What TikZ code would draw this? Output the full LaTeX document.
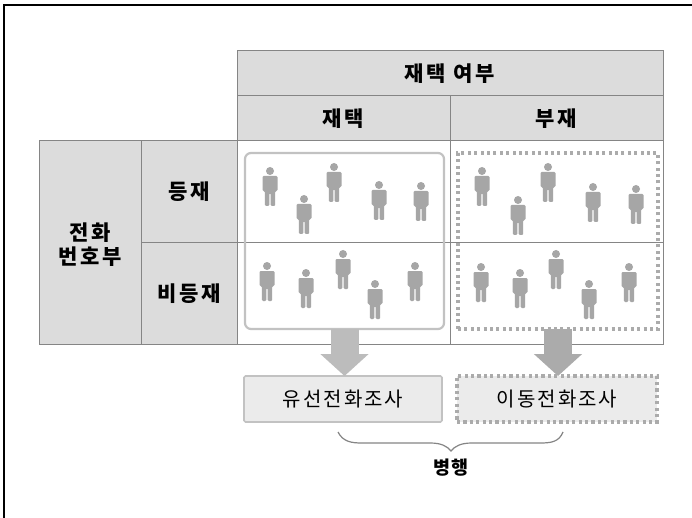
\documentclass[tikz,border=0pt]{standalone}
\usepackage{fontspec}
\setmainfont{Noto Sans CJK KR}
\usetikzlibrary{arrows.meta}
\definecolor{cellgray}{HTML}{DCDCDC}
\definecolor{linegray}{HTML}{858585}
\definecolor{figgray}{HTML}{A6A6A6}
\definecolor{zonegray}{HTML}{C2C2C2}
\definecolor{zonedot}{HTML}{ABABAB}
\definecolor{arrowgray}{HTML}{BCBCBC}
\definecolor{arrowdark}{HTML}{ABABAB}
\definecolor{boxgray}{HTML}{EBEBEB}
\tikzset{
  cellfont/.style={align=center,font=\fontsize{21}{24}\selectfont\bfseries\addfontfeature{LetterSpace=13}},
  cell/.style={draw=linegray,line width=1pt,inner sep=0pt,outer sep=0pt,cellfont},
  head/.style={cell,fill=cellgray},
  plain/.style={cell,fill=white},
  zone/.style={inner sep=0pt,outer sep=0pt,minimum width=199pt,minimum height=176pt},
  survey/.style={inner sep=0pt,outer sep=0pt,minimum width=198pt,minimum height=46pt,fill=boxgray,font=\fontsize{20}{24}\selectfont\addfontfeature{LetterSpace=10}},
  blockarrow/.style={line width=28pt,-{Triangle[length=22pt,width=47pt]}},
  figure/.pic={
    \fill[figgray] (0,0) circle (4pt);
    \fill[figgray,rounded corners=1.2pt] (-7.5,5) -- (7.5,5) -- (7.5,20) -- (5.2,20) -- (5.2,35) -- (0.6,35) -- (0.6,22) -- (-0.6,22) -- (-0.6,35) -- (-5.2,35) -- (-5.2,20) -- (-7.5,20) -- cycle;
  }
}
\begin{document}
\begin{tikzpicture}[x=1pt,y=-1pt]
\useasboundingbox (0,0) rectangle (692,518);
\fill[white] (0,0) rectangle (692,518);
\coordinate (fa) at (4,518);
\coordinate (fb) at (4,5);
\coordinate (fc) at (692,5);
\draw[black,line width=1.4pt] (fa) -- (fb) -- (fc);
% table
\node[head,minimum width=426pt,minimum height=45pt] (tophead) at (450,73.5) {재택 여부};
\node[head,minimum width=213pt,minimum height=45pt] (athome) at (343.5,118.5) {재택};
\node[head,minimum width=213pt,minimum height=45pt] (away) at (556.5,118.5) {부재};
\node[head,minimum width=102pt,minimum height=203pt] (phone) at (90,242.5) {};
\node[cellfont,inner sep=0pt] (phonetext) at (90,245) {전화\\번호부};
\node[head,minimum width=96pt,minimum height=102pt] (listed) at (189,192) {등재};
\node[head,minimum width=96pt,minimum height=101pt] (unlisted) at (189,293.5) {비등재};
\node[plain,minimum width=213pt,minimum height=102pt] (c11) at (343.5,192) {};
\node[plain,minimum width=213pt,minimum height=102pt] (c12) at (556.5,192) {};
\node[plain,minimum width=213pt,minimum height=101pt] (c21) at (343.5,293.5) {};
\node[plain,minimum width=213pt,minimum height=101pt] (c22) at (556.5,293.5) {};
% zones
\node[zone,draw=zonegray,line width=2.2pt,rounded corners=6pt] (zonea) at (344.5,241) {};
\node[zone,draw=zonedot,line width=3.2pt,dash pattern=on 3pt off 3.4pt,minimum width=200pt] (zoneb) at (558,241) {};
% people
\foreach \px/\py in {270/171,304/199,334/167,379/185,421/186,
  267/266,306/273,343/254,375/284,415/266,
  482/171,518/200,548/167,593/187,636/189,
  481/267,520/273,556/254,589/284,629/267}
  \pic at (\px,\py) {figure};
% survey boxes
\node[survey,draw=zonegray,line width=1.6pt,rounded corners=1.5pt] (wire) at (343,399) {유선전화조사};
\node[survey,draw=zonedot,line width=3.2pt,dash pattern=on 3.2pt off 3.2pt,minimum width=200pt] (mobile) at (557,399) {이동전화조사};
% arrows
\draw[blockarrow,draw=arrowgray] (zonea.south) -- (zonea.south |- wire.north);
\draw[blockarrow,draw=arrowdark] (zoneb.south) -- (zoneb.south |- mobile.north);
% brace
\node[font=\fontsize{18.5}{20}\selectfont\bfseries\addfontfeature{LetterSpace=8}] (both) at (451,468) {병행};
\coordinate (bl) at (338,432);
\coordinate (br) at (563,432);
\coordinate (bm) at (451,451);
\draw[linegray,line width=1.2pt] (bl) .. controls (343,442) and (352,443) .. (362,443)
  -- (430,443) .. controls (441,443) and (447,446) .. (bm)
  .. controls (455,446) and (461,443) .. (472,443)
  -- (540,443) .. controls (551,443) and (559,442) .. (br);
\end{tikzpicture}
\end{document}
